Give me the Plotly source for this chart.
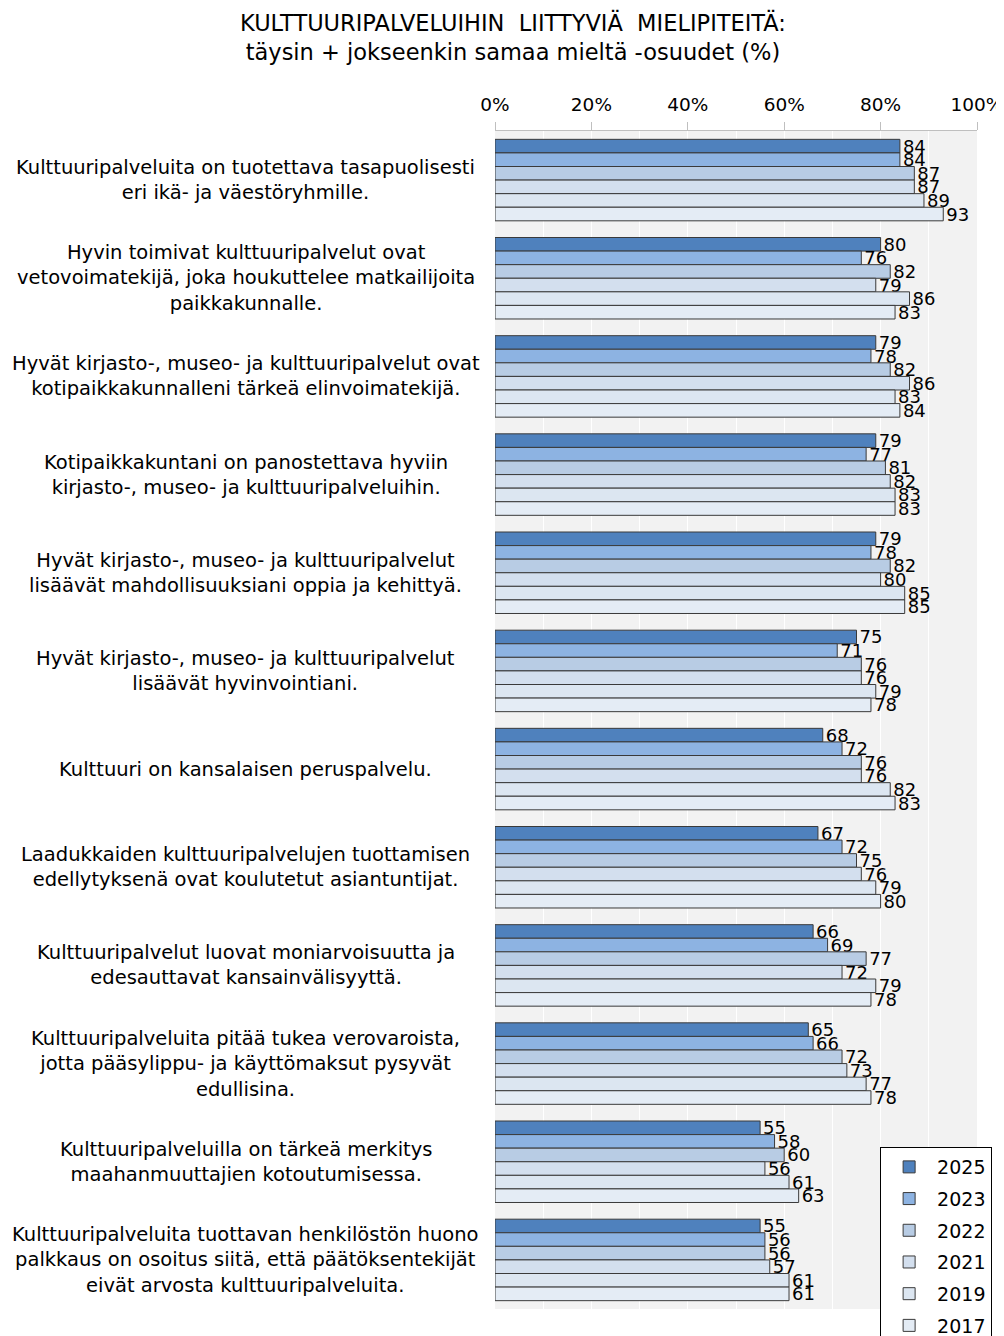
import plotly.graph_objects as go

statements = [
    "Kulttuuripalveluita on tuotettava tasapuolisesti<br>eri ikä- ja väestöryhmille.",
    "Hyvin toimivat kulttuuripalvelut ovat<br>vetovoimatekijä, joka houkuttelee matkailijoita<br>paikkakunnalle.",
    "Hyvät kirjasto-, museo- ja kulttuuripalvelut ovat<br>kotipaikkakunnalleni tärkeä elinvoimatekijä.",
    "Kotipaikkakuntani on panostettava hyviin<br>kirjasto-, museo- ja kulttuuripalveluihin.",
    "Hyvät kirjasto-, museo- ja kulttuuripalvelut<br>lisäävät mahdollisuuksiani oppia ja kehittyä.",
    "Hyvät kirjasto-, museo- ja kulttuuripalvelut<br>lisäävät hyvinvointiani.",
    "Kulttuuri on kansalaisen peruspalvelu.",
    "Laadukkaiden kulttuuripalvelujen tuottamisen<br>edellytyksenä ovat koulutetut asiantuntijat.",
    "Kulttuuripalvelut luovat moniarvoisuutta ja<br>edesauttavat kansainvälisyyttä.",
    "Kulttuuripalveluita pitää tukea verovaroista,<br>jotta pääsylippu- ja käyttömaksut pysyvät<br>edullisina.",
    "Kulttuuripalveluilla on tärkeä merkitys<br>maahanmuuttajien kotoutumisessa.",
    "Kulttuuripalveluita tuottavan henkilöstön huono<br>palkkaus on osoitus siitä, että päätöksentekijät<br>eivät arvosta kulttuuripalveluita.",
]

years = ["2025", "2023", "2022", "2021", "2019", "2017"]

v2025 = [84, 80, 79, 79, 79, 75, 68, 67, 66, 65, 55, 55]
v2023 = [84, 76, 78, 77, 78, 71, 72, 72, 69, 66, 58, 56]
v2022 = [87, 82, 82, 81, 82, 76, 76, 75, 77, 72, 60, 56]
v2021 = [87, 79, 86, 82, 80, 76, 76, 76, 72, 73, 56, 57]
v2019 = [89, 86, 83, 83, 85, 79, 82, 79, 79, 77, 61, 61]
v2017 = [93, 83, 84, 83, 85, 78, 83, 80, 78, 78, 63, 61]

tick_vals = [0, 20, 40, 60, 80, 100]
tick_text = ["0%", "20%", "40%", "60%", "80%", "100%"]

colors = ["#4f81bd", "#8db3e2", "#b8cce4", "#d3dfee", "#dce6f1", "#e4ecf5"]
series = [v2025, v2023, v2022, v2021, v2019, v2017]

cats = [str(i) for i in range(len(statements))]
FONT = "DejaVu Sans, Arial, sans-serif"

# page body has an 8px margin, so the figure is a bit smaller than the window
fig = go.Figure()
for year, vals, col in zip(years, series, colors):
    fig.add_trace(
        go.Bar(
            y=cats,
            x=vals,
            orientation="h",
            name=year,
            legendgroup=year,
            marker=dict(color=col, line=dict(color="#3a3a3a", width=1)),
            text=vals,
            textposition="outside",
            constraintext="none",
            textfont=dict(size=18, color="black"),
            cliponaxis=False,
        )
    )

for c, s in zip(cats, statements):
    fig.add_annotation(
        x=-0.517, xref="paper", y=c, yref="y", text=s, showarrow=False,
        xanchor="center", align="center", font=dict(size=19.5, color="black"),
    )

fig.add_annotation(
    text="KULTTUURIPALVELUIHIN\u00a0 LIITTYVIÄ\u00a0 MIELIPITEITÄ:<br>täysin + jokseenkin samaa mieltä -osuudet (%)",
    x=0.0373, xref="paper", xanchor="center",
    y=1.0798, yref="paper", yanchor="middle",
    showarrow=False, align="center", font=dict(size=22.5, color="black"),
)

fig.update_layout(
    width=996,
    height=1328,
    margin=dict(l=487, r=27, t=123, b=27, autoexpand=False),
    paper_bgcolor="white",
    plot_bgcolor="#f2f2f2",
    font=dict(family=FONT, color="black"),
    barmode="group",
    bargap=0.17,
    bargroupgap=0,
    showlegend=True,
    legend=dict(
        x=0.799, xanchor="left", y=0.1375, yanchor="top",
        bordercolor="black", borderwidth=1, bgcolor="white",
        font=dict(size=19), tracegroupgap=4, traceorder="grouped",
        itemwidth=46,
    ),
)

fig.update_xaxes(
    range=[0, 100], side="top", tickvals=tick_vals, ticktext=tick_text,
    tickfont=dict(size=18.5), ticks="outside", ticklen=8, tickcolor="#bfbfbf",
    ticklabelstandoff=4, ticklabeloverflow="allow",
    showline=True, linecolor="#bfbfbf", showgrid=True, gridcolor="white",
    minor=dict(dtick=10, showgrid=True, gridcolor="white"),
    zeroline=False, fixedrange=True,
)
fig.update_yaxes(
    autorange="reversed", showticklabels=False, ticks="", showgrid=False,
)

fig.write_html("out.html")
